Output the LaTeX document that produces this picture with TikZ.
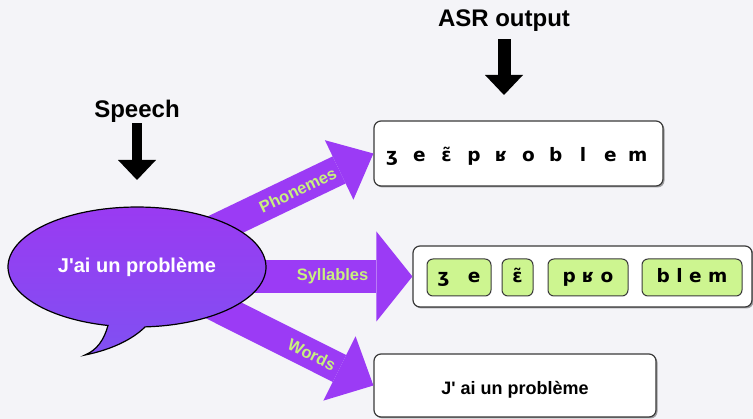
\documentclass[tikz,border=0pt]{standalone}
\usepackage{fontspec}
\setmainfont{Liberation Sans}
\newfontfamily\ipafont{DejaVu Sans}
\usetikzlibrary{arrows.meta,shadows,positioning}

\definecolor{bgcol}{HTML}{F4F4F8}
\definecolor{arrpurple}{HTML}{9B3BF5}
\definecolor{lblgreen}{HTML}{C8F07E}
\definecolor{sylgreen}{HTML}{CDF590}
\definecolor{boxline}{HTML}{3A3A3A}
\definecolor{bubtop}{HTML}{9A3AF2}
\definecolor{bubbot}{HTML}{8050F2}

\tikzset{
  toplbl/.style={font=\fontsize{24}{28}\selectfont\bfseries, inner sep=0pt, anchor=base},
  dnarrow/.style={line width=12pt, -{Triangle[width=38pt,length=20pt,line width=0pt]}},
  fatarrow/.style={draw=arrpurple, line width=30pt},
  armlbl/.style={font=\fontsize{16.5}{18}\selectfont\bfseries, text=lblgreen, sloped},
  outbox/.style={draw=boxline, line width=1.2pt, fill=white, rounded corners=7pt,
    drop shadow={shadow xshift=1.5pt, shadow yshift=-1.5pt, opacity=.35, fill=black}},
  sylbox/.style={draw=boxline, line width=1pt, fill=sylgreen, rounded corners=6pt,
    minimum height=37pt, inner sep=0pt, text height=14pt, text depth=4.4pt,
    font=\ipafont\bfseries\fontsize{18.5}{20}\selectfont},
  ipa/.style={font=\ipafont\bfseries\fontsize{18.5}{20}\selectfont, anchor=base, inner sep=0pt},
  bubtxt/.style={font=\fontsize{20}{24}\selectfont\bfseries, text=white, anchor=base},
  boxtxt/.style={font=\fontsize{18}{22}\selectfont\bfseries, anchor=base}
}

\begin{document}
\begin{tikzpicture}[x=1pt,y=-1pt]
  \useasboundingbox (0,0) rectangle (753,419);
  \fill[bgcol] (0,0) rectangle (753,419);

  \node[outbox, minimum width=289pt, minimum height=65pt] (phon) at (518.5,153.5) {};
  \foreach \g [count=\i from 0] in {ʒ,e,ɛ̃,p,ʁ,o,b,l,e,m}
    \node[ipa] (ph\i) at ({392+27.3*\i},161.5) {\g};

  \node[outbox, minimum width=339pt, minimum height=61pt] (syl) at (582.5,276.5) {};
  \node[sylbox, minimum width=64pt] (s1) at (459,277.5) {ʒ\quad e};
  \node[sylbox, minimum width=31pt] (s2) at (517.5,277.5) {ɛ̃};
  \node[sylbox, minimum width=80pt] (s3) at (588,277.5) {p ʁ o};
  \node[sylbox, minimum width=100pt] (s4) at (692,277.5) {b l e m};

  \node[outbox, minimum width=282pt, minimum height=63pt] (words) at (515,385.5) {};
  \node[boxtxt] (wordstxt) at (515,394.5) {J\textquotesingle{} ai un problème};

  \coordinate (speech) at (137,267);
  \draw[fatarrow, -{Triangle[width=66pt,length=38pt,line width=0pt]}] (speech) -- (phon.west)
    node[armlbl, pos=.68] {Phonemes};
  \draw[fatarrow, line width=33pt, -{Triangle[width=90pt,length=36pt,line width=0pt]}] (speech |- syl.west) -- (syl.west)
    node[armlbl, pos=.71] {Syllables};
  \draw[fatarrow, -{Triangle[width=72pt,length=38pt,line width=0pt]}] (speech) -- (words.west)
    node[armlbl, pos=.74] {Words};

  \shadedraw[top color=bubtop, bottom color=bubbot, draw=black, line width=1.2pt]
    (145.1,326.9) arc[start angle=86.4, end angle=-257, x radius=129, y radius=60]
    .. controls (104,340) and (97,350) .. (85,355)
    .. controls (110,350) and (132,340) .. (145.1,326.9) -- cycle;
  \node[bubtxt] (speechtxt) at (137,273) {J\textquotesingle ai un problème};

  \node[toplbl] (speechlbl) at (137,118) {Speech};
  \coordinate (speechtip) at (137,180);
  \draw[dnarrow, line width=10pt] (speechlbl) -- (speechtip);
  \node[toplbl] (asrlbl) at (504,27) {ASR output};
  \coordinate (asrtip) at (504,95);
  \draw[dnarrow, line width=13pt, shorten <=7pt] (asrlbl) -- (asrtip);
\end{tikzpicture}
\end{document}
